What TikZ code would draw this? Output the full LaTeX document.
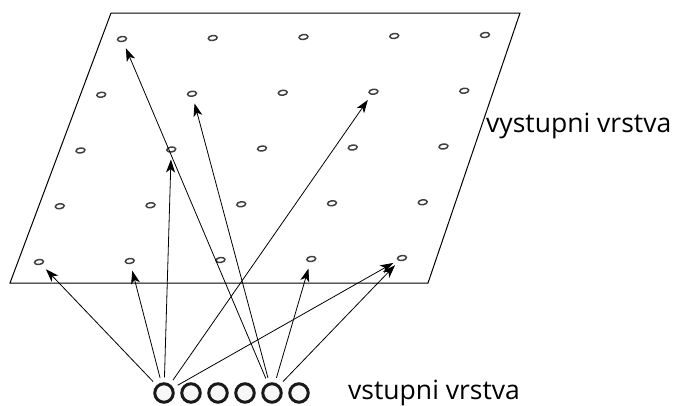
\documentclass[tikz,border=0pt]{standalone}
\usepackage{fontspec}
\setmainfont{Open Sans}
\usetikzlibrary{shapes.geometric,arrows.meta}
\tikzset{
  unit/.style={ellipse,draw=black!75,fill=white,line width=1.5pt,minimum width=9pt,minimum height=5pt,inner sep=0pt,rotate=8},
  inp/.style={circle,draw=black!90,fill=black!3,line width=3pt,minimum size=18.5pt,inner sep=0pt},
  arr/.style={draw=black,line width=0.8pt,-{Stealth[length=13pt,width=9pt,inset=3.5pt]},shorten <=5pt,shorten >=10pt},
  plane/.style={draw=black,line width=1pt},
  lbl/.style={anchor=base west,inner sep=0pt,font=\fontsize{26.5}{30}\selectfont}
}
\begin{document}
\begin{tikzpicture}[x=1pt,y=-1pt]
\useasboundingbox (0,0) rectangle (675,405);
% output plane
\draw[plane] (111,13) -- (520,13) -- (428,283) -- (10,283) -- cycle;
% grid of output units
\foreach \i in {0,...,4}{
  \foreach \j in {0,...,4}{
    \node[unit] (g\i\j) at ({122-20.75*\i+90.75*\j},{39+55.75*\i-1*\j}) {};
  }
}
% input units
\foreach \k in {1,...,6}{
  \node[inp] (c\k) at ({164+27*(\k-1)},393) {};
}
% connections
\draw[arr] (c1) -- (g40.center);
\draw[arr] (c1) -- (g41.center);
\draw[arr] (c1) -- (g21.center);
\draw[arr] (c1) -- (g13.center);
\draw[arr] (c1) -- (g44.center);
\draw[arr] (c5) -- (g00.center);
\draw[arr] (c5) -- (g11.center);
\draw[arr] (c5) -- (g43.center);
\draw[arr] (c5) -- (g44.center);
% labels
\node[lbl] (outl) at (486,132) {vystupni vrstva};
\node[lbl] (inl) at (348,399) {vstupni vrstva};
\end{tikzpicture}
\end{document}
